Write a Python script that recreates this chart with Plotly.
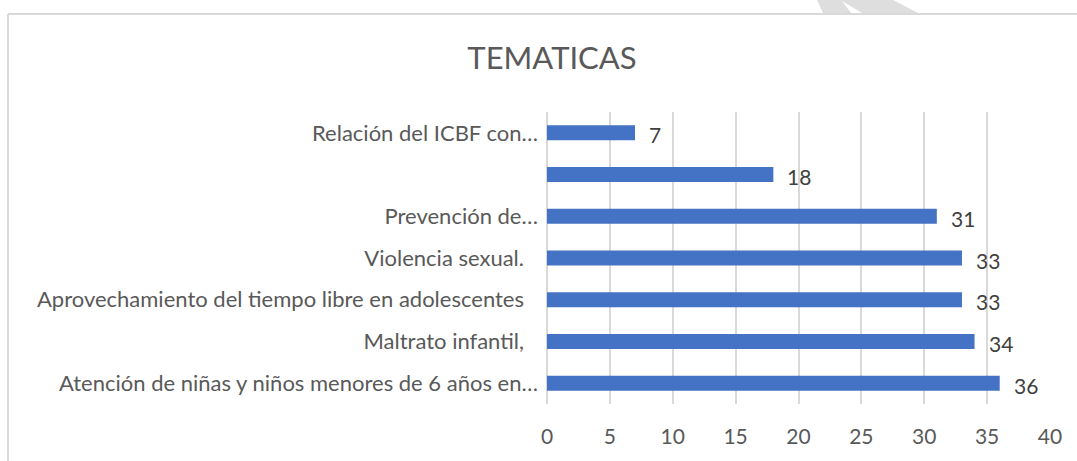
import plotly.graph_objects as go

categories = [
    "Atención de niñas y niños menores de 6 años en…",
    "Maltrato infantil,\u00a0\u00a0\u2009",
    "Aprovechamiento del tiempo libre en adolescentes\u00a0\u00a0\u2009",
    "Violencia sexual.\u00a0\u00a0\u2009",
    "Prevención de…",
    "\u00a0",
    "Relación del ICBF con…",
]
values = [36, 34, 33, 33, 31, 18, 7]
x_ticks = [0, 5, 10, 15, 20, 25, 30, 35, 40]

W, H = 1077, 461
ML, MR, MT, MB = 547, 27, 112, 57
pw = W - ML - MR
ph = H - MT - MB

FONT = "Lato"
fig = go.Figure()
fig.add_trace(go.Bar(
    x=values, y=categories, orientation="h",
    marker=dict(color="#4472c4", line=dict(width=0)),
    width=0.36, hoverinfo="skip",
))
for v, c in zip(values, categories):
    fig.add_annotation(x=v, y=c, text=str(v), showarrow=False,
                       xanchor="left", xshift=12, yshift=-2,
                       font=dict(family=FONT, size=21, color="#404040"))

def px(xp):
    return (xp - ML) / pw

def py(yp):
    return (H - MB - yp) / ph

# chart border
fig.add_shape(type="line", xref="paper", yref="paper",
              x0=px(8), x1=px(8), y0=py(14), y1=py(470),
              line=dict(color="#d9d9d9", width=2))
fig.add_shape(type="line", xref="paper", yref="paper",
              x0=px(8), x1=px(1090), y0=py(14), y1=py(14),
              line=dict(color="#d9d9d9", width=2))
# watermark fragment
pts = [(817, 0), (823, 13), (851, 13), (842, 1), (862, 13), (918, 13), (893, 0)]
path = "M " + " L ".join(f"{px(a):.4f},{py(b):.4f}" for a, b in pts) + " Z"
fig.add_shape(type="path", xref="paper", yref="paper", path=path,
              fillcolor="#dedede", line=dict(width=0), layer="above")

fig.update_layout(
    width=W, height=H,
    margin=dict(l=ML, r=MR, t=MT, b=MB, autoexpand=False),
    paper_bgcolor="white", plot_bgcolor="white",
    showlegend=False,
    title=dict(text="TEMATICAS", x=(552) / W, xanchor="center",
               y=1 - 58 / H, yanchor="middle",
               font=dict(family=FONT, size=31, color="#595959")),
    bargap=0.64,
)
fig.update_xaxes(range=[0, 40], tickvals=x_ticks, ticktext=[str(t) for t in x_ticks],
                 showgrid=True, gridcolor="#d9d9d9", gridwidth=1.5,
                 zeroline=True, zerolinecolor="#d9d9d9", zerolinewidth=1.5,
                 showline=False, ticks="", ticklabelstandoff=18,
                 tickfont=dict(family=FONT, size=21, color="#595959"), fixedrange=True)
fig.update_yaxes(categoryorder="array", categoryarray=categories,
                 showgrid=False, showline=False, ticks="", ticklabelstandoff=8,
                 tickfont=dict(family=FONT, size=22, color="#595959"), fixedrange=True)

fig.write_html("out.html", config={"displayModeBar": False},
               post_script="document.body.style.margin='0';document.body.style.padding='0';")
